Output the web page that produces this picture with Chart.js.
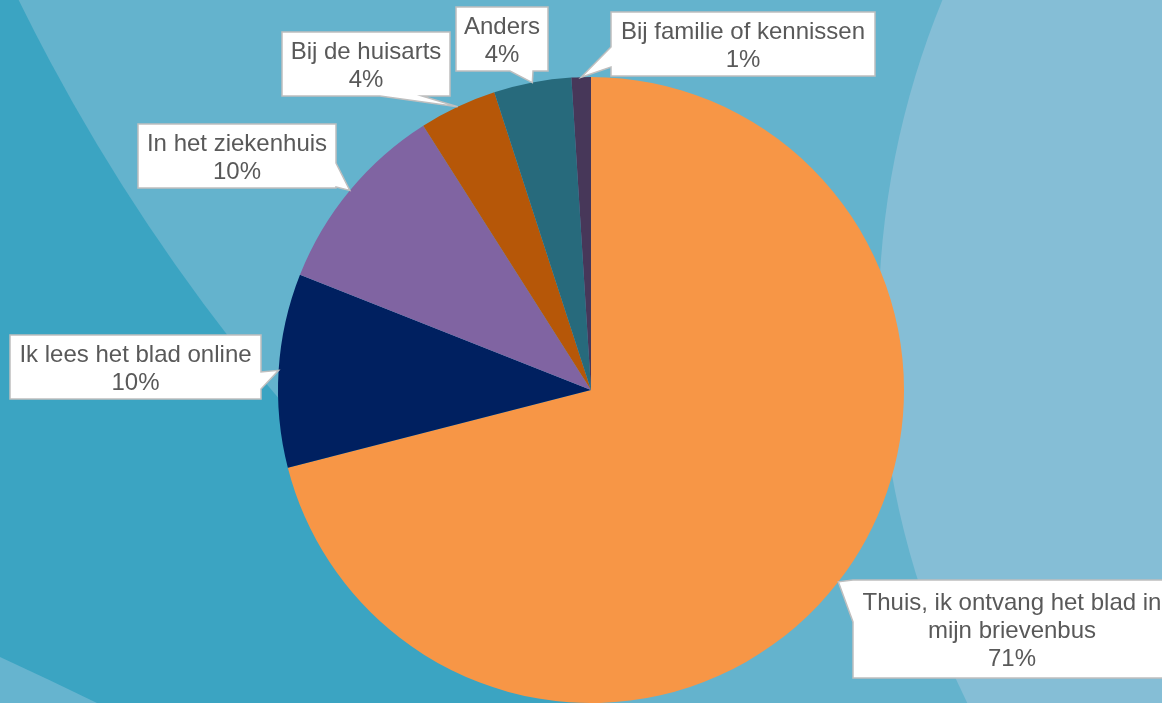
<!DOCTYPE html>
<html>
<head>
<meta charset="utf-8">
<script src="https://cdn.jsdelivr.net/npm/chart.js@4/dist/chart.umd.min.js"></script>
<style>
  html, body { margin: 0; padding: 0; background: #3BA4C2; }
  #wrap { width: 1162px; height: 703px; position: relative; overflow: hidden; }
  canvas { display: block; }
</style>
</head>
<body>
<div id="wrap"><canvas id="c" width="1162" height="703"></canvas></div>
<script>
// ---- data ----
const categories = [
  "Thuis, ik ontvang het blad in mijn brievenbus",
  "Ik lees het blad online",
  "In het ziekenhuis",
  "Bij de huisarts",
  "Anders",
  "Bij familie of kennissen"
];
const percentages = [71, 10, 10, 4, 4, 1];
const sliceColors = ["#F79646", "#002060", "#8064A2", "#B65708", "#276A7C", "#473759"];

// ---- label layout (callout boxes, pixel layout only) ----
const calloutLayout = [
  { x: 853, y: 580, w: 318, h: 98, side: "left",   s0: 580, s1: 622 },
  { x: 10,  y: 335, w: 251, h: 64, side: "right",  s0: 372, s1: 389 },
  { x: 138, y: 124, w: 198, h: 64, side: "right",  s0: 163, s1: 187 },
  { x: 282, y: 32,  w: 168, h: 64, side: "bottom", s0: 380, s1: 422 },
  { x: 456, y: 7,   w: 92,  h: 64, side: "bottom", s0: 510, s1: 533 },
  { x: 611, y: 12,  w: 264, h: 64, side: "left",   s0: 47,  s1: 67 }
];

const bgPlugin = {
  id: "bg",
  beforeDraw(chart) {
    const ctx = chart.ctx;
    ctx.save();
    ctx.fillStyle = "#3BA4C2";
    ctx.fillRect(0, 0, chart.width, chart.height);
    // middle band
    ctx.fillStyle = "#64B3CD";
    ctx.beginPath();
    ctx.arc(1768, -857, 1948, 0, Math.PI * 2);
    ctx.fill();
    // right light circle
    ctx.fillStyle = "#85BED6";
    ctx.beginPath();
    ctx.arc(1732, 324, 853.5, 0, Math.PI * 2);
    ctx.fill();
    // lower-left patch
    ctx.fillStyle = "#66B4CF";
    ctx.beginPath();
    ctx.moveTo(0, 657);
    ctx.quadraticCurveTo(50, 680, 97, 703);
    ctx.lineTo(0, 703);
    ctx.closePath();
    ctx.fill();
    ctx.restore();
  }
};

function wrapText(ctx, text, maxW) {
  const words = text.split(" ");
  const lines = [];
  let cur = "";
  for (const w of words) {
    const t = cur ? cur + " " + w : w;
    if (ctx.measureText(t).width > maxW && cur) { lines.push(cur); cur = w; }
    else cur = t;
  }
  if (cur) lines.push(cur);
  return lines;
}

function calloutPath(ctx, b, tx, ty) {
  const x0 = b.x, y0 = b.y, x1 = b.x + b.w, y1 = b.y + b.h;
  ctx.beginPath();
  ctx.moveTo(x0, y0);
  if (b.side === "top") { ctx.lineTo(b.s0, y0); ctx.lineTo(tx, ty); ctx.lineTo(b.s1, y0); }
  ctx.lineTo(x1, y0);
  if (b.side === "right") { ctx.lineTo(x1, b.s0); ctx.lineTo(tx, ty); ctx.lineTo(x1, b.s1); }
  ctx.lineTo(x1, y1);
  if (b.side === "bottom") { ctx.lineTo(b.s1, y1); ctx.lineTo(tx, ty); ctx.lineTo(b.s0, y1); }
  ctx.lineTo(x0, y1);
  if (b.side === "left") { ctx.lineTo(x0, b.s1); ctx.lineTo(tx, ty); ctx.lineTo(x0, b.s0); }
  ctx.closePath();
}

const calloutPlugin = {
  id: "callouts",
  afterDatasetsDraw(chart) {
    const ctx = chart.ctx;
    const meta = chart.getDatasetMeta(0);
    ctx.save();
    ctx.font = "24px 'Liberation Sans', Arial, sans-serif";
    meta.data.forEach((arc, i) => {
      const p = arc.getProps(["x", "y", "startAngle", "endAngle", "outerRadius"], true);
      const mid = (p.startAngle + p.endAngle) / 2;
      const tx = p.x + Math.cos(mid) * p.outerRadius;
      const ty = p.y + Math.sin(mid) * p.outerRadius;
      const b = calloutLayout[i];
      calloutPath(ctx, b, tx, ty);
      ctx.fillStyle = "#FFFFFF";
      ctx.fill();
      ctx.lineWidth = 1.5;
      ctx.strokeStyle = "#BFBFBF";
      ctx.lineJoin = "miter";
      ctx.stroke();
      const lines = wrapText(ctx, categories[i], b.w - 14);
      lines.push(percentages[i] + "%");
      const lh = 28;
      const cx = b.x + b.w / 2;
      const startY = b.y + b.h / 2 - (lines.length - 1) * lh / 2 + 2;
      ctx.fillStyle = "#595959";
      ctx.textAlign = "center";
      ctx.textBaseline = "middle";
      lines.forEach((ln, k) => ctx.fillText(ln, cx, startY + k * lh));
    });
    ctx.restore();
  }
};

new Chart(document.getElementById("c"), {
  type: "pie",
  data: {
    labels: categories,
    datasets: [{
      data: percentages,
      backgroundColor: sliceColors,
      borderWidth: 0
    }]
  },
  options: {
    responsive: false,
    animation: false,
    layout: { padding: { left: 20, right: 0, top: 77, bottom: 0 } },
    plugins: {
      legend: { display: false },
      tooltip: { enabled: false }
    }
  },
  plugins: [bgPlugin, calloutPlugin]
});
</script>
</body>
</html>
